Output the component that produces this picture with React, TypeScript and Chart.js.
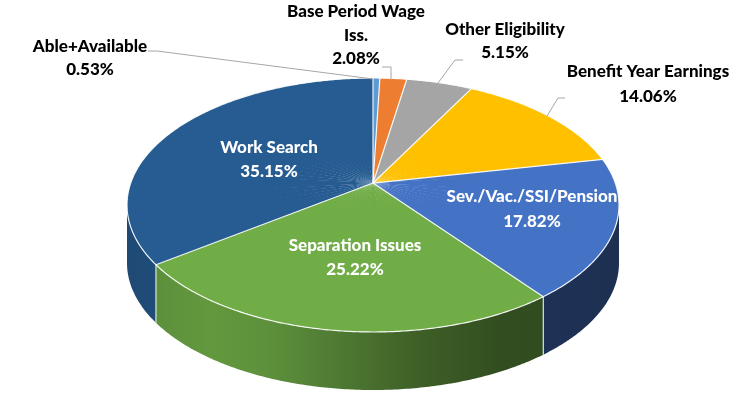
import React, { useEffect, useRef } from 'react';
import { Chart, registerables } from 'chart.js';
Chart.register(...registerables);

// ---- data ----
const categories = [
  'Able+Available',
  'Base Period Wage Iss.',
  'Other Eligibility',
  'Benefit Year Earnings',
  'Sev./Vac./SSI/Pension',
  'Separation Issues',
  'Work Search',
];
const shares = [0.53, 2.08, 5.15, 14.06, 17.82, 25.22, 35.15];
const labelNameLines = [
  ['Able+Available'],
  ['Base Period Wage', 'Iss.'],
  ['Other Eligibility'],
  ['Benefit Year Earnings'],
  ['Sev./Vac./SSI/Pension'],
  ['Separation Issues'],
  ['Work Search'],
];
const sliceColors = ['#5B9BD5', '#ED7D31', '#A5A5A5', '#FFC000', '#4472C4', '#70AD47', '#265C91'];

// ---- layout: perspective view of the pie ----
const ECX = 373; // screen ellipse centre
const ECY = 205;
const ERX = 246;
const ERY = 127;
const TILT = -0.173; // where the pie centre lands inside the ellipse (normalised)
const DEPTH = 58;
const WEDGES = 60;
const SIDE_SHADE: [number, number][] = [
  [127, 0.8], [165, 0.84], [210, 0.88], [270, 0.83], [340, 0.7], [420, 0.55], [500, 0.45], [620, 0.42],
];
const LABEL_FONT = '900 17px Lato, "Liberation Sans", sans-serif';
// label anchor: [centerX, firstLineY, lineHeight, inside]
const labelAnchors: [number, number, number, boolean][] = [
  [90, 47, 23, false],
  [356, 12, 23.5, false],
  [505, 30, 23, false],
  [648, 72, 25, false],
  [532, 197, 25, true],
  [355, 246, 24, true],
  [269, 148, 24, true],
];
const leaderLines: ([number, number][] | null)[] = [
  [[148, 51], [157, 51], [373, 79]],
  [[382, 67], [391, 67], [391, 80]],
  [[463, 60], [455, 60], [438, 83]],
  [[565, 98], [558, 98], [547, 116]],
  null,
  null,
  null,
];

const BETA = Math.atanh(TILT);
const CH = Math.cosh(BETA);
const SH = Math.sinh(BETA);
const APX = ECX;
const APY = ECY + ERY * TILT;

function proj(phi: number): [number, number] {
  const c = Math.cos(phi);
  const s = Math.sin(phi);
  const w = s * SH + CH;
  return [ECX + (ERX * c) / w, ECY + (ERY * (s * CH + SH)) / w];
}

function shade(hex: string, f: number) {
  const n = parseInt(hex.slice(1), 16);
  const r = Math.round(((n >> 16) & 255) * f);
  const g = Math.round(((n >> 8) & 255) * f);
  const b = Math.round((n & 255) * f);
  return `rgb(${r},${g},${b})`;
}

const pie3d = {
  id: 'pie3d',
  beforeDatasetsDraw(chart: any) {
    const ctx: CanvasRenderingContext2D = chart.ctx;
    const meta = chart.getDatasetMeta(0);
    const arcs = meta.data as any[];
    if (!arcs.length) return false;
    const cx = arcs[0].x;
    const cy = arcs[0].y;
    const r = arcs[0].outerRadius;

    // side walls (visible front part)
    const visLo = Math.asin(-TILT);
    const visHi = Math.PI - visLo;
    arcs.forEach((arc, i) => {
      const s = Math.max(arc.startAngle, visLo);
      const e = Math.min(arc.endAngle, visHi);
      if (e <= s) return;
      const grad = ctx.createLinearGradient(ECX - ERX, 0, ECX + ERX, 0);
      SIDE_SHADE.forEach(([x, f]) => {
        grad.addColorStop(Math.min(1, Math.max(0, (x - (ECX - ERX)) / (2 * ERX))), shade(sliceColors[i], f));
      });
      const n = Math.max(2, Math.ceil((e - s) / 0.01));
      ctx.beginPath();
      for (let k = 0; k <= n; k++) {
        const [x, y] = proj(s + ((e - s) * k) / n);
        k === 0 ? ctx.moveTo(x, y) : ctx.lineTo(x, y);
      }
      for (let k = n; k >= 0; k--) {
        const [x, y] = proj(s + ((e - s) * k) / n);
        ctx.lineTo(x, y + DEPTH);
      }
      ctx.closePath();
      ctx.fillStyle = grad;
      ctx.fill();
    });
    // seams on the side wall
    ctx.save();
    ctx.strokeStyle = 'rgba(235,240,235,0.9)';
    ctx.lineWidth = 1.2;
    arcs.forEach((arc) => {
      const a = arc.startAngle;
      if (a > visLo && a < visHi) {
        const [x, y] = proj(a);
        ctx.beginPath();
        ctx.moveTo(x, y);
        ctx.lineTo(x, y + DEPTH);
        ctx.stroke();
      }
    });
    ctx.restore();

    // top faces: arc elements drawn through piecewise-linear approximations of the perspective
    const step = (2 * Math.PI) / WEDGES;
    for (let k = 0; k < WEDGES; k++) {
      const f1 = -Math.PI / 2 + k * step;
      const f2 = f1 + step;
      const p1 = proj(f1);
      const p2 = proj(f2);
      const v1x = p1[0] - APX, v1y = p1[1] - APY;
      const v2x = p2[0] - APX, v2y = p2[1] - APY;
      const c1 = Math.cos(f1), s1 = Math.sin(f1), c2 = Math.cos(f2), s2 = Math.sin(f2);
      const det = c1 * s2 - c2 * s1;
      const L00 = (v1x * s2 - v2x * s1) / det;
      const L01 = (-v1x * c2 + v2x * c1) / det;
      const L10 = (v1y * s2 - v2y * s1) / det;
      const L11 = (-v1y * c2 + v2y * c1) / det;
      const q1 = proj(f1 - 0.012);
      const q2 = proj(f2);
      ctx.save();
      ctx.beginPath();
      ctx.moveTo(APX, APY);
      ctx.lineTo(APX + 3 * (q1[0] - APX), APY + 3 * (q1[1] - APY));
      ctx.lineTo(APX + 3 * (q2[0] - APX), APY + 3 * (q2[1] - APY));
      ctx.closePath();
      ctx.clip();
      ctx.translate(APX, APY);
      ctx.transform(L00 / r, L10 / r, L01 / r, L11 / r, 0, 0);
      ctx.translate(-cx, -cy);
      arcs.forEach((a) => a.draw(ctx));
      ctx.restore();
    }

    // borders between slices and along the rim
    ctx.save();
    ctx.strokeStyle = 'rgba(255,255,255,0.9)';
    ctx.lineWidth = 1.2;
    arcs.forEach((arc) => {
      const [x, y] = proj(arc.startAngle);
      ctx.beginPath();
      ctx.moveTo(APX, APY);
      ctx.lineTo(x, y);
      ctx.stroke();
    });
    ctx.beginPath();
    for (let k = 0; k <= 720; k++) {
      const [x, y] = proj((k / 720) * 2 * Math.PI);
      k === 0 ? ctx.moveTo(x, y) : ctx.lineTo(x, y);
    }
    ctx.closePath();
    ctx.stroke();
    ctx.restore();
    return false;
  },
  afterDraw(chart: any) {
    const ctx: CanvasRenderingContext2D = chart.ctx;
    ctx.save();
    ctx.strokeStyle = '#A6A6A6';
    ctx.lineWidth = 1;
    leaderLines.forEach((pl) => {
      if (!pl) return;
      ctx.beginPath();
      pl.forEach(([x, y], k) => (k === 0 ? ctx.moveTo(x, y) : ctx.lineTo(x, y)));
      ctx.stroke();
    });
    ctx.font = LABEL_FONT;
    ctx.textAlign = 'center';
    ctx.textBaseline = 'middle';
    const values = chart.data.datasets[0].data as number[];
    values.forEach((v, i) => {
      const [x, y, lh, inside] = labelAnchors[i];
      const lines = [...labelNameLines[i], v.toFixed(2) + '%'];
      ctx.fillStyle = inside ? '#FFFFFF' : '#000000';
      lines.forEach((t, k) => ctx.fillText(t, x, y + k * lh));
    });
    ctx.restore();
  },
};

export default function App() {
  const ref = useRef<HTMLCanvasElement>(null);
  useEffect(() => {
    document.body.style.margin = '0';
    const chart = new Chart(ref.current!, {
      type: 'pie',
      data: {
        labels: categories,
        datasets: [
          {
            data: shares,
            backgroundColor: sliceColors,
            borderWidth: 0,
          },
        ],
      },
      options: {
        responsive: false,
        animation: false,
        events: [],
        plugins: { legend: { display: false }, tooltip: { enabled: false } },
      },
      plugins: [pie3d],
    });
    return () => chart.destroy();
  }, []);
  return (
    <div style={{ width: 750, height: 397, background: '#fff' }}>
      <canvas ref={ref} width={750} height={397} style={{ display: 'block' }} />
    </div>
  );
}
